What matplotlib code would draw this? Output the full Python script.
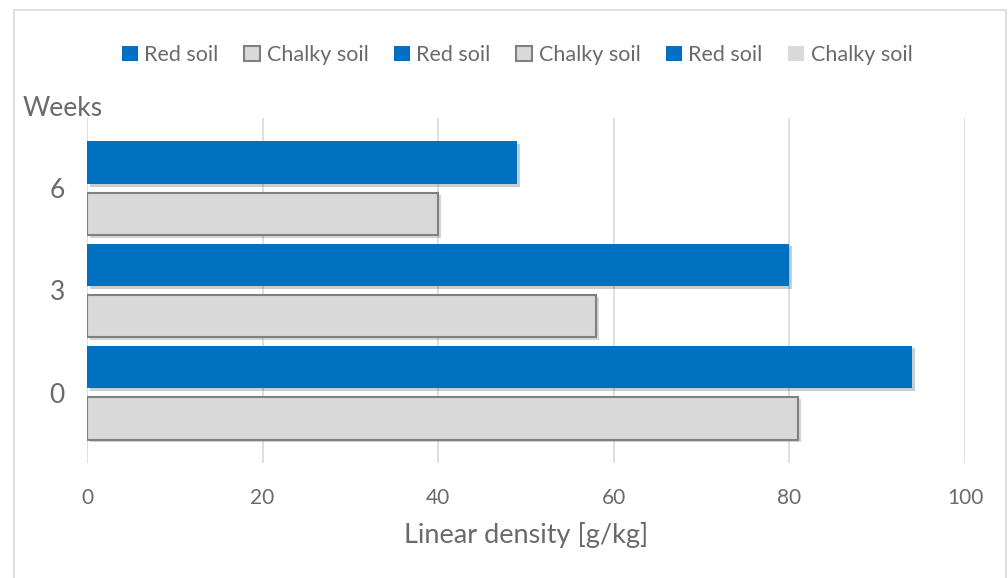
import matplotlib
matplotlib.use("Agg")
import matplotlib.pyplot as plt
import matplotlib.patheffects as pe
from matplotlib.patches import Patch
import numpy as np

# data
weeks = ["0", "3", "6"]
red_soil = [94, 80, 49]
chalky_soil = [81, 58, 40]
legend_labels = ["Red soil", "Chalky soil", "Red soil", "Chalky soil", "Red soil", "Chalky soil"]
xticks = [0, 20, 40, 60, 80, 100]

BLUE = "#0070C0"
GREY_FILL = "#D9D9D9"
GREY_EDGE = "#808080"
TEXT = "#6A6A6A"
GRID = "#D9D9D9"

plt.rcParams["font.family"] = ["Lato", "DejaVu Sans"]

fig = plt.figure(figsize=(10.08, 5.78), dpi=100)
ax = fig.add_axes([87 / 1008, 1 - 463 / 578, (965 - 87) / 1008, (463 - 118) / 578])

# outer chart border (bottom edge runs off the image, as in the reference)
fig.patches.append(plt.Rectangle((14 / 1008, -0.1), (1006 - 14) / 1008, 1.1 - 10 / 578,
                                 transform=fig.transFigure, fill=False,
                                 edgecolor="#D9D9D9", linewidth=1.2))

y = np.arange(len(weeks))
h = 0.42
off = 0.25
shadow = [pe.SimplePatchShadow(offset=(2, -2), alpha=0.22), pe.Normal()]

ax.barh(y + off, red_soil, height=h, color=BLUE, edgecolor="none",
        path_effects=shadow, zorder=3)
ax.barh(y - off, chalky_soil, height=h, color=GREY_FILL, edgecolor=GREY_EDGE,
        linewidth=1.5, path_effects=shadow, zorder=3)

ax.set_xlim(0, 100)
ax.set_ylim(-0.69, 2.69)
ax.set_xticks(xticks)
ax.set_yticks(y)
ax.set_yticklabels(weeks)
ax.grid(axis="x", color=GRID, linewidth=1.2, zorder=0)
ax.set_axisbelow(True)
for s in ax.spines.values():
    s.set_visible(False)
ax.tick_params(axis="both", length=0, colors=TEXT)
ax.tick_params(axis="x", labelsize=15, pad=18)
ax.tick_params(axis="y", labelsize=19, pad=16)

ax.set_xlabel("Linear density [g/kg]", fontsize=19.5, color=TEXT, labelpad=10)
fig.text(23 / 1008, 1 - 108 / 578, "Weeks", fontsize=19, color=TEXT,
         ha="left", va="center")

handles = []
for i, lab in enumerate(legend_labels):
    if lab == "Red soil":
        handles.append(Patch(facecolor=BLUE, edgecolor="none", label=lab))
    elif i == len(legend_labels) - 1:
        handles.append(Patch(facecolor=GREY_FILL, edgecolor="none", label=lab))
    else:
        handles.append(Patch(facecolor=GREY_FILL, edgecolor=GREY_EDGE, linewidth=1.5, label=lab))
leg = fig.legend(handles=handles, loc="center", bbox_to_anchor=(517 / 1008, 1 - 55 / 578),
                 ncol=6, frameon=False, fontsize=15.5, handlelength=0.75, handleheight=0.75,
                 handletextpad=0.3, columnspacing=1.18)
for t in leg.get_texts():
    t.set_color(TEXT)

fig.savefig("out.png", dpi=100, facecolor="white")
